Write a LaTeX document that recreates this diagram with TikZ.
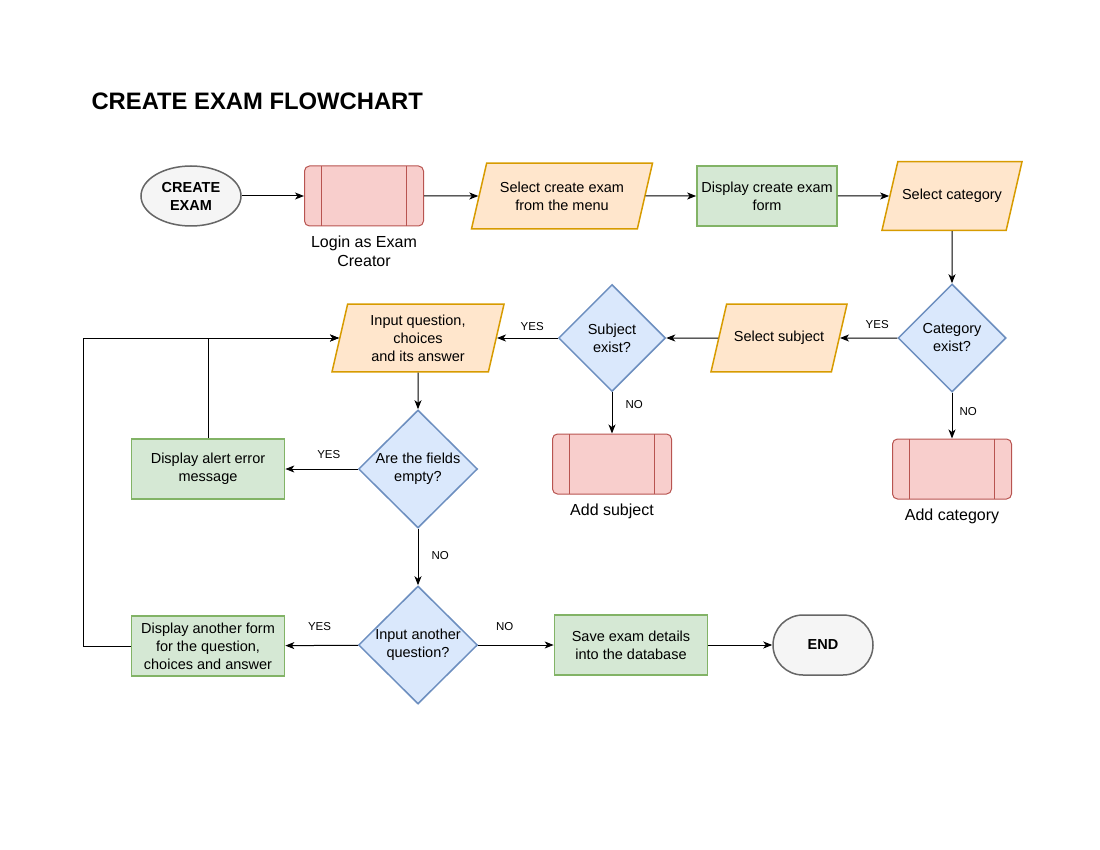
\documentclass[tikz,border=0pt]{standalone}
\usepackage{fontspec}
\setmainfont{Liberation Sans}
\usetikzlibrary{positioning,arrows.meta,shapes.geometric}
\definecolor{orgF}{HTML}{FFE6CC}
\definecolor{orgS}{HTML}{D79B00}
\definecolor{grnF}{HTML}{D5E8D4}
\definecolor{grnS}{HTML}{82B366}
\definecolor{bluF}{HTML}{DAE8FC}
\definecolor{bluS}{HTML}{6C8EBF}
\definecolor{redF}{HTML}{F8CECC}
\definecolor{redS}{HTML}{B85450}
\definecolor{gryF}{HTML}{F5F5F5}
\definecolor{gryS}{HTML}{666666}

\begin{document}
\begin{tikzpicture}[x=1pt,y=-1pt,font=\fontsize{14.5pt}{18pt}\selectfont,
  >={Stealth[length=9pt,width=7pt,inset=2.5pt]},
  arr/.style={->,line width=1pt},
  term/.style={ellipse,draw=gryS,fill=gryF,line width=1.5pt,minimum width=100pt,minimum height=60pt,align=center,font=\fontsize{14.5pt}{18pt}\selectfont\bfseries},
  endbox/.style={draw=gryS,fill=gryF,line width=1.5pt,rounded corners=30pt,minimum width=100pt,minimum height=60pt,font=\fontsize{14.5pt}{18pt}\selectfont\bfseries},
  proc/.style={draw=redS,fill=redF,line width=1pt,rounded corners=5pt,minimum width=119pt,minimum height=60pt,
    path picture={\draw[redS,line width=1pt]
      ([xshift=17pt]path picture bounding box.north west) -- ([xshift=17pt]path picture bounding box.south west)
      ([xshift=-17pt]path picture bounding box.north east) -- ([xshift=-17pt]path picture bounding box.south east);}},
  para/.style={trapezium,trapezium left angle=77,trapezium right angle=103,trapezium stretches body=true,
    draw=orgS,fill=orgF,line width=1.5pt,inner ysep=#1,inner xsep=1pt,align=center},
  para/.default=18.5pt,
  act/.style={draw=grnS,fill=grnF,line width=1.7pt,minimum width=153pt,minimum height=60pt,inner sep=1pt,align=center},
  dec/.style={diamond,draw=bluS,fill=bluF,line width=1.5pt,aspect=1,inner sep=0pt,align=center},
  captxt/.style={font=\fontsize{16pt}{19pt}\selectfont,align=center},
  lbl/.style={font=\fontsize{11.5pt}{13pt}\selectfont,inner sep=1pt}]
  \useasboundingbox (0,0) rectangle (1100,850);
  \node[anchor=west,font=\fontsize{23.8pt}{28pt}\selectfont\bfseries] (title) at (88,101) {CREATE EXAM FLOWCHART};
  % top row
  \node[term] (start) at (191,196) {CREATE\\EXAM};
  \node[proc] (login) at (364,196) {};
  \node[captxt,below=6pt of login] (logincap) {Login as Exam\\Creator};
  \node[para,minimum width=181pt] (selexam) at (562,196) {Select create exam\\from the menu};
  \node[act,minimum width=140pt] (dispform) at (767,196) {Display create exam\\form};
  \node[para=27.5pt,minimum width=140pt] (selcat) at (952,196) {Select category};
  % second row
  \node[dec,minimum width=108pt,minimum height=108pt] (catex) at (952,338) {Category\\exist?};
  \node[proc] (addcat) at (952,469) {};
  \node[captxt,below=6pt of addcat] (addcatcap) {Add category};
  \node[para=27pt,minimum width=136pt] (selsub) at (779,338) {Select subject};
  \node[dec,minimum width=107pt,minimum height=107pt] (subex) at (612,338) {Subject\\exist?};
  \node[proc] (addsub) at (612,464) {};
  \node[captxt,below=6pt of addsub] (addsubcap) {Add subject};
  \node[para=10.5pt,minimum width=172pt] (inq) at (418,338) {Input question,\\choices\\and its answer};
  % lower part
  \node[dec,minimum width=119pt,minimum height=118pt] (empty) at (418,469) {Are the fields\\empty?};
  \node[act] (alert) at (208,469) {Display alert error\\message};
  \node[dec,minimum width=119pt,minimum height=118pt] (another) at (418,645) {Input another\\question?};
  \node[act] (newform) at (208,646) {Display another form\\for the question,\\choices and answer};
  \node[act] (save) at (631,645) {Save exam details\\into the database};
  \node[endbox] (end) at (823,645) {END};
  % connectors
  \draw[arr] (start) -- (login);
  \draw[arr] (login) -- (selexam);
  \draw[arr] (selexam) -- (dispform);
  \draw[arr] (dispform) -- (selcat);
  \draw[arr] (selcat) -- (catex);
  \draw[arr] (catex) -- node[lbl,above=8pt,pos=.35]{YES} (selsub);
  \draw[arr] (catex) -- node[lbl,right=6pt,pos=.4]{NO} (addcat);
  \draw[arr] (selsub) -- (subex);
  \draw[arr] (subex) -- node[lbl,above=6pt,pos=.42]{YES} (inq);
  \draw[arr] (subex) -- node[lbl,right=12pt,pos=.3]{NO} (addsub);
  \draw[arr] (inq) -- (empty);
  \draw[arr] (empty) -- node[lbl,above=9pt,pos=.4]{YES} (alert);
  \draw[arr] (alert.north) |- (inq.west);
  \draw[arr] (empty) -- node[lbl,right=12pt,pos=.48]{NO} (another);
  \draw[arr] (another) -- node[lbl,above=13pt,pos=.53]{YES} (newform);
  \draw[arr] (newform.west) -- ++(-47,0) |- (inq.west);
  \draw[arr] (another) -- node[lbl,above=13pt,pos=.35]{NO} (save);
  \draw[arr] (save) -- (end);
\end{tikzpicture}
\end{document}
